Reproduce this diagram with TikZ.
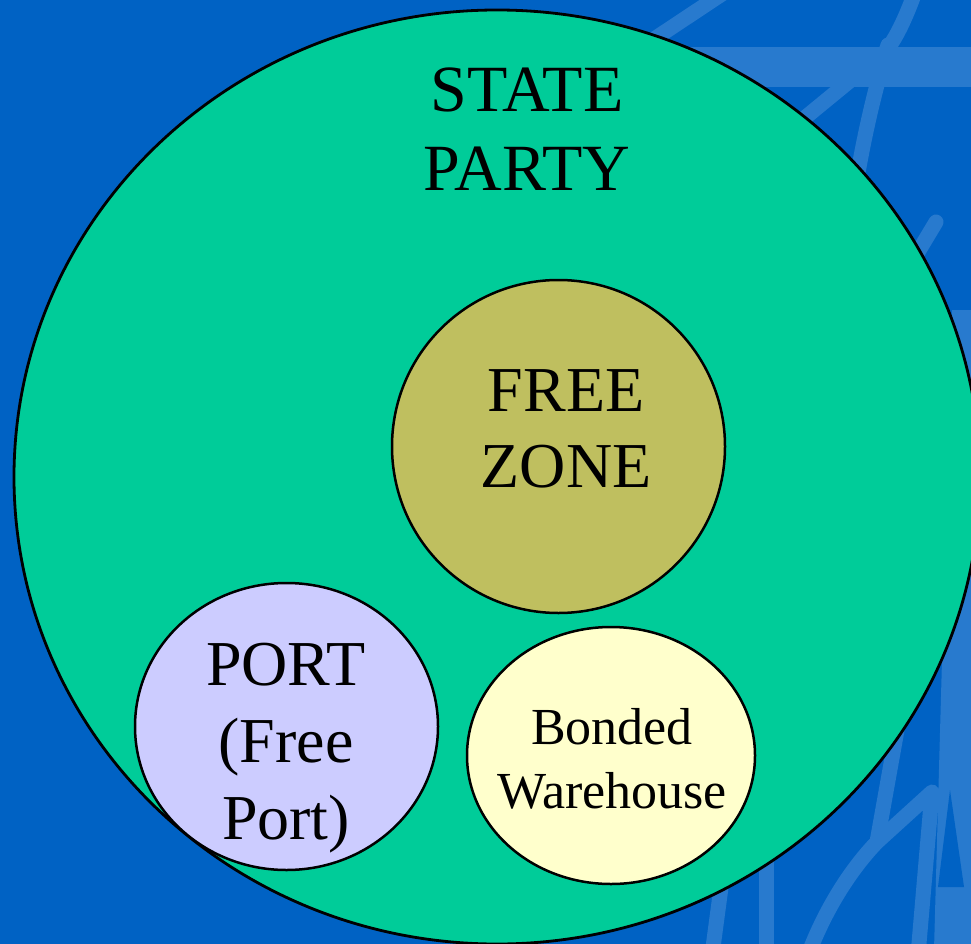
\documentclass[tikz,border=0pt]{standalone}
\usepackage{fontspec}
\setmainfont{Liberation Serif}
\usetikzlibrary{shapes.geometric}
\definecolor{bgblue}{RGB}{0,98,196}
\definecolor{wmblue}{RGB}{40,122,206}
\definecolor{stategreen}{RGB}{0,204,153}
\definecolor{zoneolive}{RGB}{191,191,95}
\definecolor{portlilac}{RGB}{204,204,255}
\definecolor{bondcream}{RGB}{255,255,204}
\begin{document}
\begin{tikzpicture}[x=1pt,y=-1pt,
  wm/.style={draw=wmblue,line width=15pt,line cap=round,line join=round},
  region/.style={ellipse,draw=black,line width=2.5pt,inner sep=0pt,outer sep=0pt},
  lbl/.style={inner sep=0pt,align=center,anchor=north,text=black}]
\useasboundingbox (0,0) rectangle (971,944);
\clip (0,0) rectangle (971,944);
\fill[bgblue] (0,0) rectangle (971,944);
% watermark strokes
\draw[wm] (725,-8) -- (600,75);
\fill[wmblue] (650,47) rectangle (980,87);
\draw[wm] (915,-8) .. controls (905,20) and (895,40) .. (885,52) -- (790,130);
\draw[wm] (888,45) .. controls (875,90) and (865,130) .. (855,190);
\draw[wm] (936,222) -- (900,282);
\fill[wmblue] (952,310) -- (980,310) -- (980,950) -- (934,950) -- (942,660) -- cycle;
\fill[bgblue] (938,887) -- (964,887) -- (950,790) -- cycle;
\draw[wm] (808,955) .. controls (825,910) and (850,870) .. (877,842) -- (932,792) -- (918,955);
\draw[wm] (877,842) -- (897,730);
\draw[wm] (766,860) -- (766,955);
\draw[wm] (712,955) -- (722,880);
% regions
\node[region,fill=stategreen,line width=2.8pt,minimum width=966pt,minimum height=934pt] (state) at (497,477) {};
\node[region,fill=zoneolive,minimum width=333pt,minimum height=333pt] (zone) at (558.5,446.5) {};
\node[region,fill=portlilac,minimum width=303pt,minimum height=287pt] (port) at (286.5,726.5) {};
\node[region,fill=bondcream,minimum width=288pt,minimum height=257pt] (bond) at (611,755.5) {};
% labels
\node[lbl,font=\fontsize{66}{79}\selectfont] (statetxt) at (527,68) {STATE\\PARTY};
\node[lbl,font=\fontsize{64}{76}\selectfont] (zonetxt) at (566,369) {FREE\\ZONE};
\node[lbl,font=\fontsize{64}{77}\selectfont] (porttxt) at (286,643) {PORT\\(Free\\Port)};
\node[lbl,font=\fontsize{52}{64}\selectfont] (bondtxt) at (612,708) {Bonded\\Warehouse};
\end{tikzpicture}
\end{document}
